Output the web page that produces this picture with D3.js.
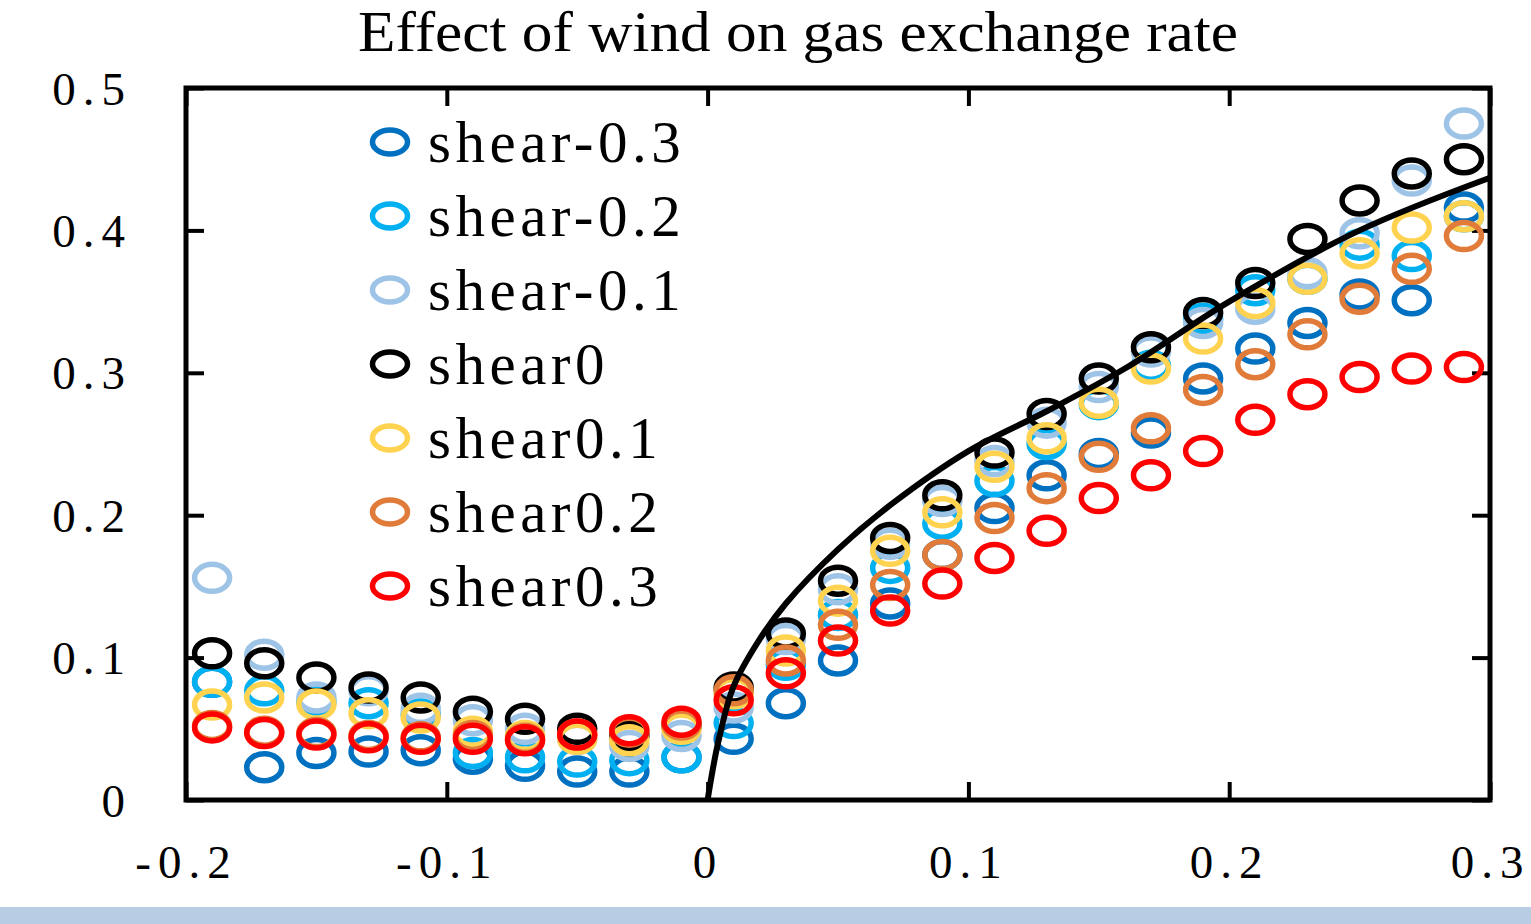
<!DOCTYPE html>
<html>
<head>
<meta charset="utf-8">
<script src="https://cdn.jsdelivr.net/npm/d3@7"></script>
<style>
    body { margin: 0; background: #ffffff; }
    svg { display: block; }
</style>
</head>
<body>
<svg id="wind_svg"></svg>
<script>
// wind speed positions (x)
const windX = [-0.19, -0.17, -0.15, -0.13, -0.11, -0.09, -0.07, -0.05, -0.03, -0.01,
    0.01, 0.03, 0.05, 0.07, 0.09, 0.11, 0.13, 0.15, 0.17, 0.19, 0.21, 0.23, 0.25, 0.27, 0.29];

const seriesNames = ["shear-0.3", "shear-0.2", "shear-0.1", "shear0", "shear0.1", "shear0.2", "shear0.3"];
const seriesColors = ["#0070c0", "#00b0f0", "#9dc3e6", "#000000", "#ffd34f", "#e07b39", "#ff0000"];

const shearM03 = [0.083, 0.023, 0.033, 0.034, 0.035, 0.029, 0.024, 0.020, 0.020, 0.030,
    0.043, 0.068, 0.098, 0.138, 0.172, 0.205, 0.228, 0.243, 0.258, 0.296, 0.317, 0.335, 0.355, 0.351, 0.416];
const shearM02 = [0.083, 0.077, 0.069, 0.068, 0.060, 0.033, 0.030, 0.027, 0.028, 0.030,
    0.054, 0.095, 0.130, 0.163, 0.194, 0.224, 0.250, 0.278, 0.305, 0.338, 0.358, 0.366, 0.390, 0.382, 0.410];
const shearM01 = [0.156, 0.102, 0.072, 0.077, 0.064, 0.056, 0.050, 0.043, 0.038, 0.045,
    0.065, 0.113, 0.148, 0.180, 0.210, 0.238, 0.265, 0.290, 0.315, 0.335, 0.345, 0.370, 0.398, 0.435, 0.475];
const shear0 = [0.103, 0.096, 0.086, 0.079, 0.072, 0.062, 0.057, 0.050, 0.045, 0.052,
    0.079, 0.117, 0.154, 0.184, 0.214, 0.244, 0.271, 0.296, 0.318, 0.342, 0.363, 0.394, 0.421, 0.440, 0.450];
const shearP01 = [0.067, 0.072, 0.067, 0.061, 0.058, 0.048, 0.045, 0.043, 0.042, 0.050,
    0.075, 0.105, 0.140, 0.175, 0.202, 0.234, 0.254, 0.279, 0.303, 0.324, 0.349, 0.366, 0.384, 0.402, 0.410];
const shearP02 = [0.052, 0.048, 0.047, 0.045, 0.044, 0.045, 0.043, 0.046, 0.048, 0.053,
    0.077, 0.098, 0.123, 0.151, 0.172, 0.198, 0.219, 0.241, 0.261, 0.288, 0.306, 0.327, 0.352, 0.373, 0.396];
const shearP03 = [0.051, 0.047, 0.046, 0.044, 0.043, 0.043, 0.042, 0.046, 0.049, 0.055,
    0.070, 0.089, 0.112, 0.133, 0.152, 0.170, 0.189, 0.212, 0.228, 0.245, 0.267, 0.285, 0.297, 0.303, 0.304];

// solid reference curve
const curveX = [0, 0.004, 0.01, 0.02, 0.03, 0.05, 0.07, 0.1, 0.13, 0.16, 0.2, 0.25, 0.3];
const curveY = [0, 0.040, 0.080, 0.113, 0.138, 0.176, 0.207, 0.245, 0.273, 0.303, 0.350, 0.400, 0.437];

const xTicks = [-0.2, -0.1, 0, 0.1, 0.2, 0.3];
const yTicks = [0, 0.1, 0.2, 0.3, 0.4, 0.5];
const titleText = "Effect of wind on gas exchange rate";

function createWindPlot() {
    const svg = d3.select("#wind_svg");
    const W = 1531, H = 924;
    svg.attr("width", W).attr("height", H);

    const margin = { top: 88, right: 41, bottom: 124, left: 186 };
    const width = W - margin.left - margin.right;
    const height = H - margin.top - margin.bottom;

    const fontFamily = "'Liberation Serif', 'Times New Roman', serif";

    // bottom band
    svg.append("rect")
        .attr("x", 0).attr("y", 907)
        .attr("width", W).attr("height", H - 907)
        .attr("fill", "#b8cce4");

    // title (stretched a little to the original width, kept inside the top edge)
    svg.append("text")
        .attr("x", 798).attr("y", 51)
        .attr("text-anchor", "middle")
        .attr("textLength", 880)
        .attr("lengthAdjust", "spacingAndGlyphs")
        .style("font-family", fontFamily)
        .style("font-size", "57px")
        .text(titleText);

    const g = svg.append("g")
        .attr("transform", `translate(${margin.left},${margin.top})`);

    const x = d3.scaleLinear().domain([-0.2, 0.3]).range([0, width]);
    const y = d3.scaleLinear().domain([0, 0.5]).range([height, 0]);

    // plain hyphen for negatives, like the original
    const fmt = d => d === 0 ? "0" : d.toFixed(1);

    // axes with inward ticks on all four sides
    const styleAxis = (sel) => {
        sel.select(".domain").remove();
        sel.selectAll(".tick line").attr("stroke", "#000").attr("stroke-width", 4);
    };

    const bottomAxis = g.append("g")
        .attr("transform", `translate(0,${height})`)
        .call(d3.axisBottom(x).tickValues(xTicks).tickSize(-18).tickFormat(fmt));
    styleAxis(bottomAxis);
    bottomAxis.selectAll(".tick text")
        .attr("y", 78).attr("dy", null)
        .style("font-family", fontFamily)
        .style("font-size", "47px")
        .style("letter-spacing", "7px")
        .attr("fill", "#000");

    const topAxis = g.append("g")
        .call(d3.axisTop(x).tickValues(xTicks).tickSize(-18).tickFormat(""));
    styleAxis(topAxis);

    const leftAxis = g.append("g")
        .call(d3.axisLeft(y).tickValues(yTicks).tickSize(-18).tickFormat(fmt));
    styleAxis(leftAxis);
    leftAxis.selectAll(".tick text")
        .attr("x", -54).attr("dy", "16px")
        .attr("text-anchor", "end")
        .style("font-family", fontFamily)
        .style("font-size", "47px")
        .style("letter-spacing", "7px")
        .attr("fill", "#000");

    const rightAxis = g.append("g")
        .attr("transform", `translate(${width},0)`)
        .call(d3.axisRight(y).tickValues(yTicks).tickSize(-18).tickFormat(""));
    styleAxis(rightAxis);

    // frame
    g.append("rect")
        .attr("x", 0).attr("y", 0)
        .attr("width", width).attr("height", height)
        .attr("fill", "none")
        .attr("stroke", "#000")
        .attr("stroke-width", 5);

    const allSeries = [shearM03, shearM02, shearM01, shear0, shearP01, shearP02, shearP03];

    // hollow markers, drawn in legend order so shear0.3 sits on top
    allSeries.forEach((vals, i) => {
        g.append("g")
            .selectAll("ellipse")
            .data(vals.map((v, j) => ({ x: windX[j], y: v })))
            .join("ellipse")
            .attr("cx", d => x(d.x))
            .attr("cy", d => y(d.y))
            .attr("rx", 17.5)
            .attr("ry", 13.5)
            .attr("fill", "none")
            .attr("stroke", seriesColors[i])
            .attr("stroke-width", 5.5);
    });

    // reference curve
    const line = d3.line()
        .x(d => x(d[0]))
        .y(d => y(d[1]))
        .curve(d3.curveCatmullRom.alpha(0.5));

    g.append("path")
        .datum(curveX.map((v, i) => [v, curveY[i]]))
        .attr("d", line)
        .attr("fill", "none")
        .attr("stroke", "#000")
        .attr("stroke-width", 6);

    // legend
    const legend = svg.append("g").attr("transform", "translate(390,142)");
    seriesNames.forEach((name, i) => {
        const row = legend.append("g").attr("transform", `translate(0,${i * 74})`);
        row.append("ellipse")
            .attr("cx", 0).attr("cy", 0)
            .attr("rx", 17.5).attr("ry", 12)
            .attr("fill", "none")
            .attr("stroke", seriesColors[i])
            .attr("stroke-width", 5.5);
        row.append("text")
            .attr("x", 38).attr("y", 20)
            .style("font-family", fontFamily)
            .style("font-size", "59px")
            .style("letter-spacing", "4.5px")
            .text(name);
    });
}

createWindPlot();
</script>
</body>
</html>
